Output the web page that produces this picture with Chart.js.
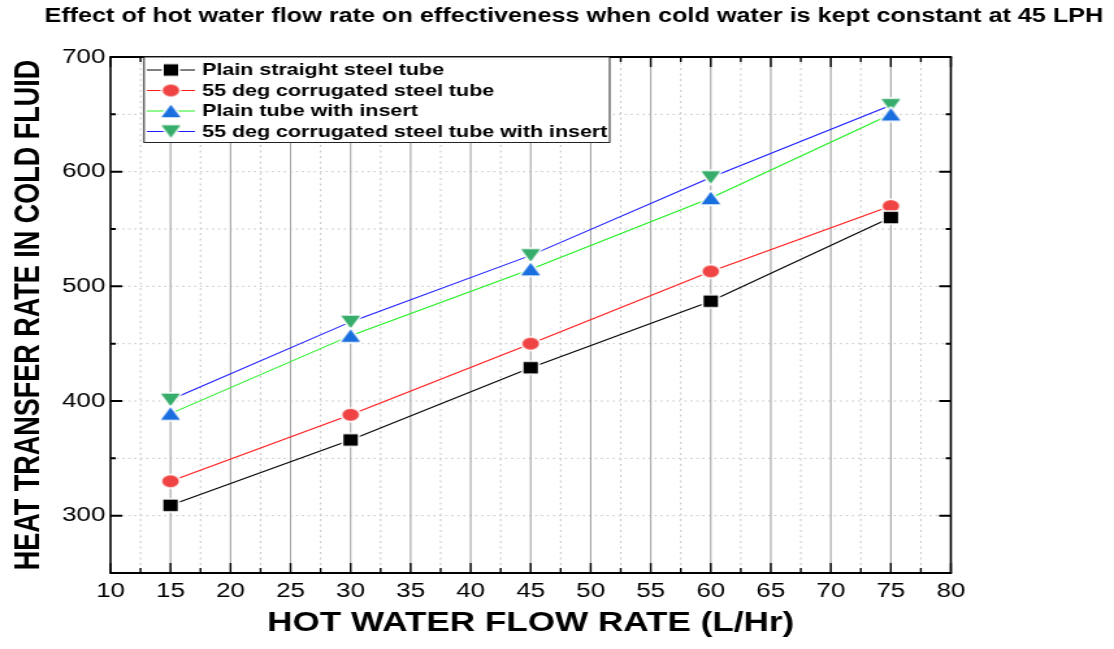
<!DOCTYPE html>
<html>
<head>
<meta charset="utf-8">
<title>Heat transfer rate vs hot water flow rate</title>
<script src="https://cdn.jsdelivr.net/npm/chart.js@4.4.1/dist/chart.umd.min.js"></script>
<style>
  html, body { margin: 0; padding: 0; background: #fff; overflow: hidden; }
  /* the plot is laid out on a narrower canvas and widened horizontally */
  #wrap { width: 857px; height: 649px; transform: scaleX(1.29988); transform-origin: 0 0; }
</style>
</head>
<body>
<div id="wrap"><canvas id="c" width="857" height="649"></canvas></div>
<script>
// Hot water flow rate (L/Hr)
const flowRates = [15, 30, 45, 60, 75];

// Heat transfer rate in cold fluid for each tube configuration
const plainStraight      = [309, 366, 429, 487, 560];
const corrugated55       = [330, 388, 450, 513, 570];
const plainWithInsert    = [389, 457, 515, 577, 650];
const corrugated55Insert = [401, 469, 527, 595, 658];

const seriesLabels = [
  'Plain straight steel tube',
  '55 deg corrugated steel tube',
  'Plain tube with insert',
  '55 deg corrugated steel tube with insert'
];

// Axis ticks (labelled values); minor ticks sit halfway between them
const xTickValues = [10, 15, 20, 25, 30, 35, 40, 45, 50, 55, 60, 65, 70, 75, 80];
const yTickValues = [300, 400, 500, 600, 700];
const xRange = [10, 80];
const yRange = [250, 700];

const chartTitle = 'Effect of hot water flow rate on effectiveness when cold water is kept constant at 45 LPH';
const xTitle = 'HOT WATER FLOW RATE (L/Hr)';
const yTitle = 'HEAT TRANSFER RATE IN COLD FLUID';

const FONT = '"Liberation Sans", Arial, Helvetica, sans-serif';

// Marker sprites with a thin white halo so the connecting lines stop short of them
function makeMarker(shape, fill, w, h) {
  const halo = 1.6;
  const c = document.createElement('canvas');
  c.width = Math.ceil(w + 2 * halo + 2);
  c.height = Math.ceil(h + 2 * halo + 2);
  const g = c.getContext('2d');
  const cx = c.width / 2, cy = c.height / 2;
  g.beginPath();
  if (shape === 'square') {
    g.rect(cx - w / 2, cy - h / 2, w, h);
  } else if (shape === 'circle') {
    g.ellipse(cx, cy, w / 2, h / 2, 0, 0, Math.PI * 2);
  } else if (shape === 'up') {
    g.moveTo(cx, cy - h / 2); g.lineTo(cx + w / 2, cy + h / 2); g.lineTo(cx - w / 2, cy + h / 2); g.closePath();
  } else {
    g.moveTo(cx - w / 2, cy - h / 2); g.lineTo(cx + w / 2, cy - h / 2); g.lineTo(cx, cy + h / 2); g.closePath();
  }
  g.lineJoin = 'round';
  g.strokeStyle = '#ffffff';
  g.lineWidth = halo * 2;
  g.stroke();
  g.fillStyle = fill;
  g.fill();
  return c;
}

const markers = [
  makeMarker('square', '#000000', 11, 11.5),
  makeMarker('circle', '#f04343', 12.8, 12),
  makeMarker('up', '#1a6fdf', 14.6, 12.7),
  makeMarker('down', '#37ad6b', 14.6, 12.7)
];
const lineColors = ['#000000', '#ff1a1a', '#22ee22', '#1a1aff'];
const seriesValues = [plainStraight, corrugated55, plainWithInsert, corrugated55Insert];

function midpoints(arr) {
  const out = [];
  for (let i = 1; i < arr.length; i++) out.push((arr[i - 1] + arr[i]) / 2);
  return out;
}

// Grid: solid major verticals, dotted minor verticals, dotted horizontals
const gridPlugin = {
  id: 'frameGrid',
  beforeDatasetsDraw(chart) {
    const { ctx, chartArea: a, scales: { x, y } } = chart;
    ctx.save();
    ctx.lineWidth = 1;
    // minor verticals
    ctx.strokeStyle = '#c4c4c4';
    ctx.setLineDash([2, 3.5]);
    midpoints(xTickValues).forEach(v => {
      const px = x.getPixelForValue(v);
      ctx.beginPath(); ctx.moveTo(px, a.top); ctx.lineTo(px, a.bottom); ctx.stroke();
    });
    // horizontals (major and minor)
    ctx.setLineDash([1.6, 3]);
    yTickValues.concat(midpoints(yTickValues)).forEach(v => {
      if (v <= yRange[0] || v >= yRange[1]) return;
      const py = y.getPixelForValue(v);
      ctx.beginPath(); ctx.moveTo(a.left, py); ctx.lineTo(a.right, py); ctx.stroke();
    });
    // major verticals
    ctx.setLineDash([]);
    ctx.strokeStyle = '#a3a3a3';
    ctx.lineWidth = 1.1;
    xTickValues.forEach(v => {
      if (v <= xRange[0] || v >= xRange[1]) return;
      const px = x.getPixelForValue(v);
      ctx.beginPath(); ctx.moveTo(px, a.top); ctx.lineTo(px, a.bottom); ctx.stroke();
    });
    ctx.restore();
  },
  afterDatasetsDraw(chart) {
    const { ctx, chartArea: a, scales: { x, y } } = chart;
    ctx.save();
    ctx.strokeStyle = '#000';
    ctx.setLineDash([]);
    // inward ticks on all four sides
    ctx.lineWidth = 1.4;
    const xt = (v, len) => {
      const px = x.getPixelForValue(v);
      ctx.beginPath();
      ctx.moveTo(px, a.bottom); ctx.lineTo(px, a.bottom - len);
      ctx.moveTo(px, a.top); ctx.lineTo(px, a.top + len);
      ctx.stroke();
    };
    xTickValues.forEach(v => xt(v, 10));
    midpoints(xTickValues).forEach(v => xt(v, 5));
    ctx.lineWidth = 2;
    const yt = (v, len) => {
      const py = y.getPixelForValue(v);
      ctx.beginPath();
      ctx.moveTo(a.left, py); ctx.lineTo(a.left + len, py);
      ctx.moveTo(a.right, py); ctx.lineTo(a.right - len, py);
      ctx.stroke();
    };
    yTickValues.forEach(v => yt(v, 9));
    midpoints(yTickValues).forEach(v => yt(v, 4));
    // frame
    ctx.lineWidth = 2;
    ctx.beginPath();
    ctx.moveTo(a.left - 0.8, a.top); ctx.lineTo(a.right + 0.8, a.top);
    ctx.moveTo(a.left - 0.8, a.bottom); ctx.lineTo(a.right + 0.8, a.bottom);
    ctx.stroke();
    ctx.lineWidth = 1.6;
    ctx.beginPath();
    ctx.moveTo(a.left, a.top); ctx.lineTo(a.left, a.bottom);
    ctx.moveTo(a.right, a.top); ctx.lineTo(a.right, a.bottom);
    ctx.stroke();
    ctx.restore();
  }
};

// Boxed legend inside the plot (line + marker + label per series)
const legendPlugin = {
  id: 'boxLegend',
  afterDraw(chart) {
    const { ctx } = chart;
    const box = { l: 110.8, t: 57, r: 469, b: 142.5 };
    const rows = [70, 90.5, 111, 131.5];
    ctx.save();
    ctx.fillStyle = '#ffffff';
    ctx.fillRect(box.l, box.t, box.r - box.l, box.b - box.t);
    ctx.strokeStyle = '#222';
    ctx.lineWidth = 1;
    ctx.strokeRect(box.l, box.t, box.r - box.l, box.b - box.t);
    chart.data.datasets.forEach((ds, i) => {
      const yy = rows[i];
      ctx.strokeStyle = ds.borderColor;
      ctx.lineWidth = 1;
      ctx.beginPath(); ctx.moveTo(113, yy); ctx.lineTo(150, yy); ctx.stroke();
      const m = ds.pointStyle;
      ctx.drawImage(m, 131.5 - m.width / 2, yy - m.height / 2);
      ctx.fillStyle = '#000';
      ctx.font = 'bold 16.5px ' + FONT;
      ctx.textAlign = 'left';
      ctx.textBaseline = 'middle';
      ctx.fillText(ds.label, 155.5, yy + 0.5);
    });
    ctx.restore();
  }
};

// Title line above the plot
const titlePlugin = {
  id: 'topTitle',
  afterDraw(chart) {
    const { ctx } = chart;
    ctx.save();
    ctx.fillStyle = '#000';
    ctx.font = 'bold 19.4px ' + FONT;
    ctx.textAlign = 'center';
    ctx.textBaseline = 'middle';
    ctx.fillText(chartTitle, 441.5, 17);
    ctx.restore();
  }
};

const datasets = seriesValues.map((vals, i) => ({
  label: seriesLabels[i],
  data: flowRates.map((fx, j) => ({ x: fx, y: vals[j] })),
  borderColor: lineColors[i],
  backgroundColor: lineColors[i],
  borderWidth: 1.1,
  pointStyle: markers[i],
  pointRadius: 7,
  pointHoverRadius: 7,
  tension: 0,
  fill: false
}));

new Chart(document.getElementById('c'), {
  type: 'line',
  data: { datasets },
  plugins: [gridPlugin, legendPlugin, titlePlugin],
  options: {
    responsive: false,
    animation: false,
    events: [],
    layout: { padding: { top: 57, right: 125.5, bottom: 0, left: 0 } },
    plugins: { legend: { display: false }, title: { display: false }, tooltip: { enabled: false } },
    scales: {
      x: {
        type: 'linear',
        min: xRange[0],
        max: xRange[1],
        afterFit(scale) { scale.height = 76; },
        afterBuildTicks(scale) { scale.ticks = xTickValues.map(v => ({ value: v })); },
        grid: { display: false, drawTicks: false },
        border: { display: false },
        ticks: {
          autoSkip: false,
          maxRotation: 0,
          padding: 6,
          color: '#000',
          font: { family: FONT, size: 20 }
        },
        title: {
          display: true,
          text: xTitle,
          color: '#000',
          font: { family: FONT, size: 27, weight: 'bold' },
          padding: { top: 0, bottom: 9 }
        }
      },
      y: {
        type: 'linear',
        min: yRange[0],
        max: yRange[1],
        afterFit(scale) { scale.width = 85; },
        afterBuildTicks(scale) { scale.ticks = yTickValues.map(v => ({ value: v })); },
        grid: { display: false, drawTicks: false },
        border: { display: false },
        ticks: {
          padding: 4,
          color: '#000',
          font: { family: FONT, size: 20 }
        },
        title: {
          display: true,
          text: yTitle,
          color: '#000',
          font: { family: FONT, size: 27, weight: 'bold' },
          padding: { top: 6, bottom: 0 }
        }
      }
    }
  }
});
</script>
</body>
</html>
